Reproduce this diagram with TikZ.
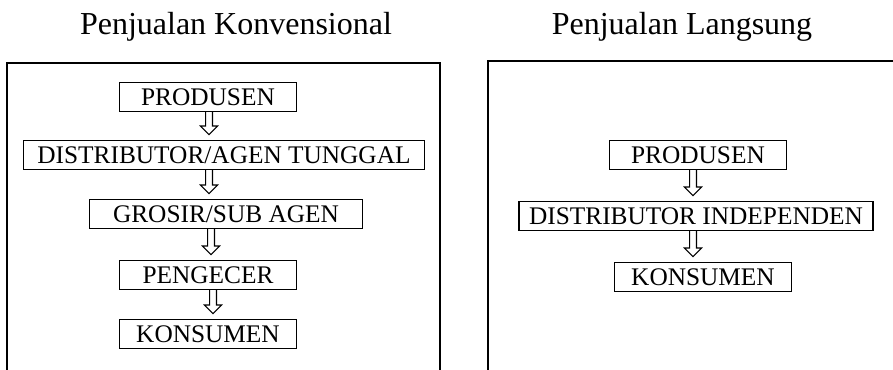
\documentclass[tikz,border=0pt]{standalone}
\usepackage{fontspec}
\setmainfont{Liberation Serif}
\usetikzlibrary{calc}

\tikzset{
  kotak/.style={draw, line width=1pt, minimum height=21.5pt, inner sep=2pt,
    font=\fontsize{19}{21}\selectfont},
  panah/.style={line width=0.8pt, to path={let \p1=(\tikztostart), \p2=(\tikztotarget) in
    (\x1-2.6pt,\y1) -- (\x1-2.6pt,\y2+10.5pt) -- (\x1-6.4pt,\y2+10.5pt) -- (\x1,\y2+4pt)
    -- (\x1+6.4pt,\y2+10.5pt) -- (\x1+2.6pt,\y2+10.5pt) -- (\x1+2.6pt,\y1)}},
  bingkai/.style={line width=1.1pt},
  judul/.style={anchor=base, font=\fontsize{24}{28}\selectfont}
}

\begin{document}
\begin{tikzpicture}[x=0.75pt, y=-0.75pt]
    \useasboundingbox (0,0) rectangle (893,370);

    % penjualan konvensional
    \node[judul] (jKonv) at (236,35) {Penjualan Konvensional};
    \draw[bingkai] (7,372) -- (7,63) -- (440,63) -- (440,372);
    \coordinate (sumbuL) at (209,0);
    \node[kotak, minimum width=177*0.75pt] (prodL) at (208,97) {PRODUSEN};
    \node[kotak, minimum width=401*0.75pt] (distL) at (224,155) {DISTRIBUTOR/AGEN TUNGGAL};
    \node[kotak, minimum width=273*0.75pt] (grosir) at (226,214) {GROSIR/SUB AGEN};
    \node[kotak, minimum width=177*0.75pt] (ecer) at (208,275) {PENGECER};
    \node[kotak, minimum width=177*0.75pt] (konsL) at (208,334) {KONSUMEN};
    \draw[panah] (prodL.south -| sumbuL) to (distL.north -| sumbuL);
    \draw[panah] (distL.south -| sumbuL) to (grosir.north -| sumbuL);
    \draw[panah] ([xshift=1.5pt]grosir.south -| sumbuL) to (ecer.north -| sumbuL);
    \draw[panah] ([xshift=3pt]ecer.south -| sumbuL) to (konsL.north -| sumbuL);

    % penjualan langsung
    \node[judul] (jLang) at (682,35) {Penjualan Langsung};
    \draw[bingkai] (488,372) -- (488,61) -- (895,61);
    \coordinate (sumbuR) at (693,0);
    \node[kotak, minimum width=177*0.75pt] (prodR) at (698,155) {PRODUSEN};
    \node[kotak, minimum width=354*0.75pt] (distR) at (696,216) {DISTRIBUTOR INDEPENDEN};
    \node[kotak, minimum width=177*0.75pt] (konsR) at (703,277) {KONSUMEN};
    \draw[panah] (prodR.south -| sumbuR) to (distR.north -| sumbuR);
    \draw[panah] (distR.south -| sumbuR) to (konsR.north -| sumbuR);
\end{tikzpicture}
\end{document}
